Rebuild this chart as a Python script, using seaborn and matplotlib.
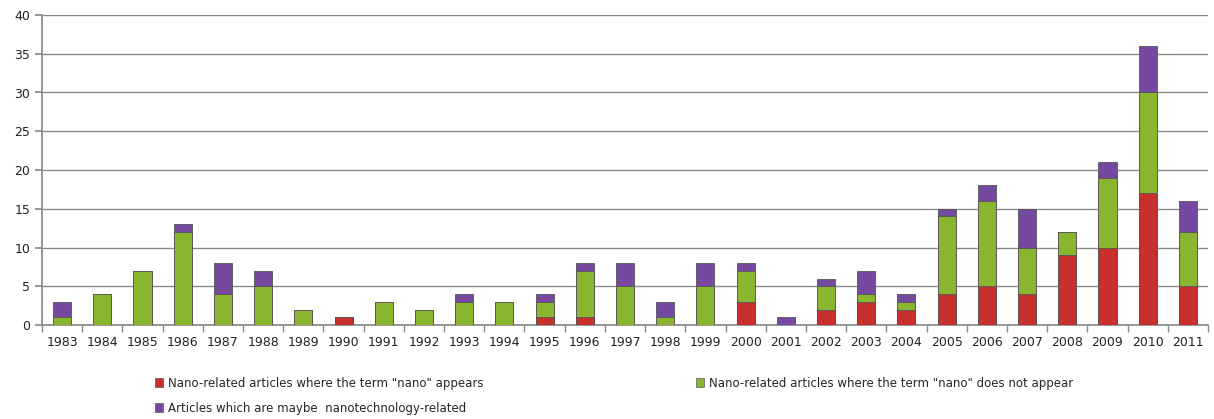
import matplotlib
matplotlib.use("Agg")
import matplotlib.pyplot as plt
import seaborn as sns
import numpy as np
import pandas as pd
from matplotlib.patches import Patch

years = [str(y) for y in range(1983, 2012)]
nano_appears = [0, 0, 0, 0, 0, 0, 0, 1, 0, 0, 0, 0, 1, 1, 0, 0, 0, 3, 0, 2, 3, 2, 4, 5, 4, 9, 10, 17, 5]
nano_not = [1, 4, 7, 12, 4, 5, 2, 0, 3, 2, 3, 3, 2, 6, 5, 1, 5, 4, 0, 3, 1, 1, 10, 11, 6, 3, 9, 13, 7]
maybe = [2, 0, 0, 1, 4, 2, 0, 0, 0, 0, 1, 0, 1, 1, 3, 2, 3, 1, 1, 1, 3, 1, 1, 2, 5, 0, 2, 6, 4]
labels = ['Nano-related articles where the term "nano" appears',
          'Nano-related articles where the term "nano" does not appear',
          'Articles which are maybe  nanotechnology-related']

c_red = "#C7302C"
c_green = "#8AB52E"
c_purple = "#7549A0"

df = pd.DataFrame({"year": years, "red": nano_appears, "green": nano_not, "purple": maybe})
df["t_green"] = df["red"] + df["green"]
df["t_purple"] = df["t_green"] + df["purple"]

sns.set_theme(style="white")
plt.rcParams['font.family'] = ['DejaVu Sans']

fig = plt.figure(figsize=(12.14, 4.19), dpi=100)
ax = fig.add_axes([42/1214, 1-325/419, (1208-42)/1214, (325-15)/419])

for col, c in [("t_purple", c_purple), ("t_green", c_green), ("red", c_red)]:
    sns.barplot(data=df, x="year", y=col, color=c, width=0.45, ax=ax,
                edgecolor="#555555", linewidth=0.6, saturation=1, zorder=3)

ax.set_ylim(0, 40)
ax.set_xlim(-0.5, len(years) - 0.5)
ax.set_yticks(range(0, 41, 5))
ax.yaxis.grid(True, color="#8a8a8a", linewidth=1)
ax.set_axisbelow(True)
ax.set_xlabel("")
ax.set_ylabel("")
for s in ["top", "right"]:
    ax.spines[s].set_visible(False)
ax.spines["left"].set_color("#8a8a8a")
ax.spines["bottom"].set_color("#8a8a8a")
ax.tick_params(axis="x", which="major", length=0, labelsize=9, pad=8, labelcolor="#222222")
ax.tick_params(axis="y", which="major", length=5, direction="out", color="#8a8a8a", labelsize=9, labelcolor="#222222", left=True)
ax.set_xticks(np.arange(-0.5, len(years), 1), minor=True)
ax.tick_params(axis="x", which="minor", length=5, direction="out", color="#8a8a8a", bottom=True)

handles = [Patch(facecolor=c_red, edgecolor="#555555", linewidth=0.5),
           Patch(facecolor=c_purple, edgecolor="#555555", linewidth=0.5),
           Patch(facecolor=c_green, edgecolor="#555555", linewidth=0.5)]
hl = [labels[0], labels[2], labels[1]]
fig.legend(handles, hl, ncol=2, loc="upper left", bbox_to_anchor=(150/1214, 1-372/419),
           frameon=False, fontsize=8.5, handlelength=0.7, handleheight=0.7, handletextpad=0.4,
           columnspacing=18.0, labelspacing=1.0, borderaxespad=0)

fig.savefig("out.png", dpi=100)
